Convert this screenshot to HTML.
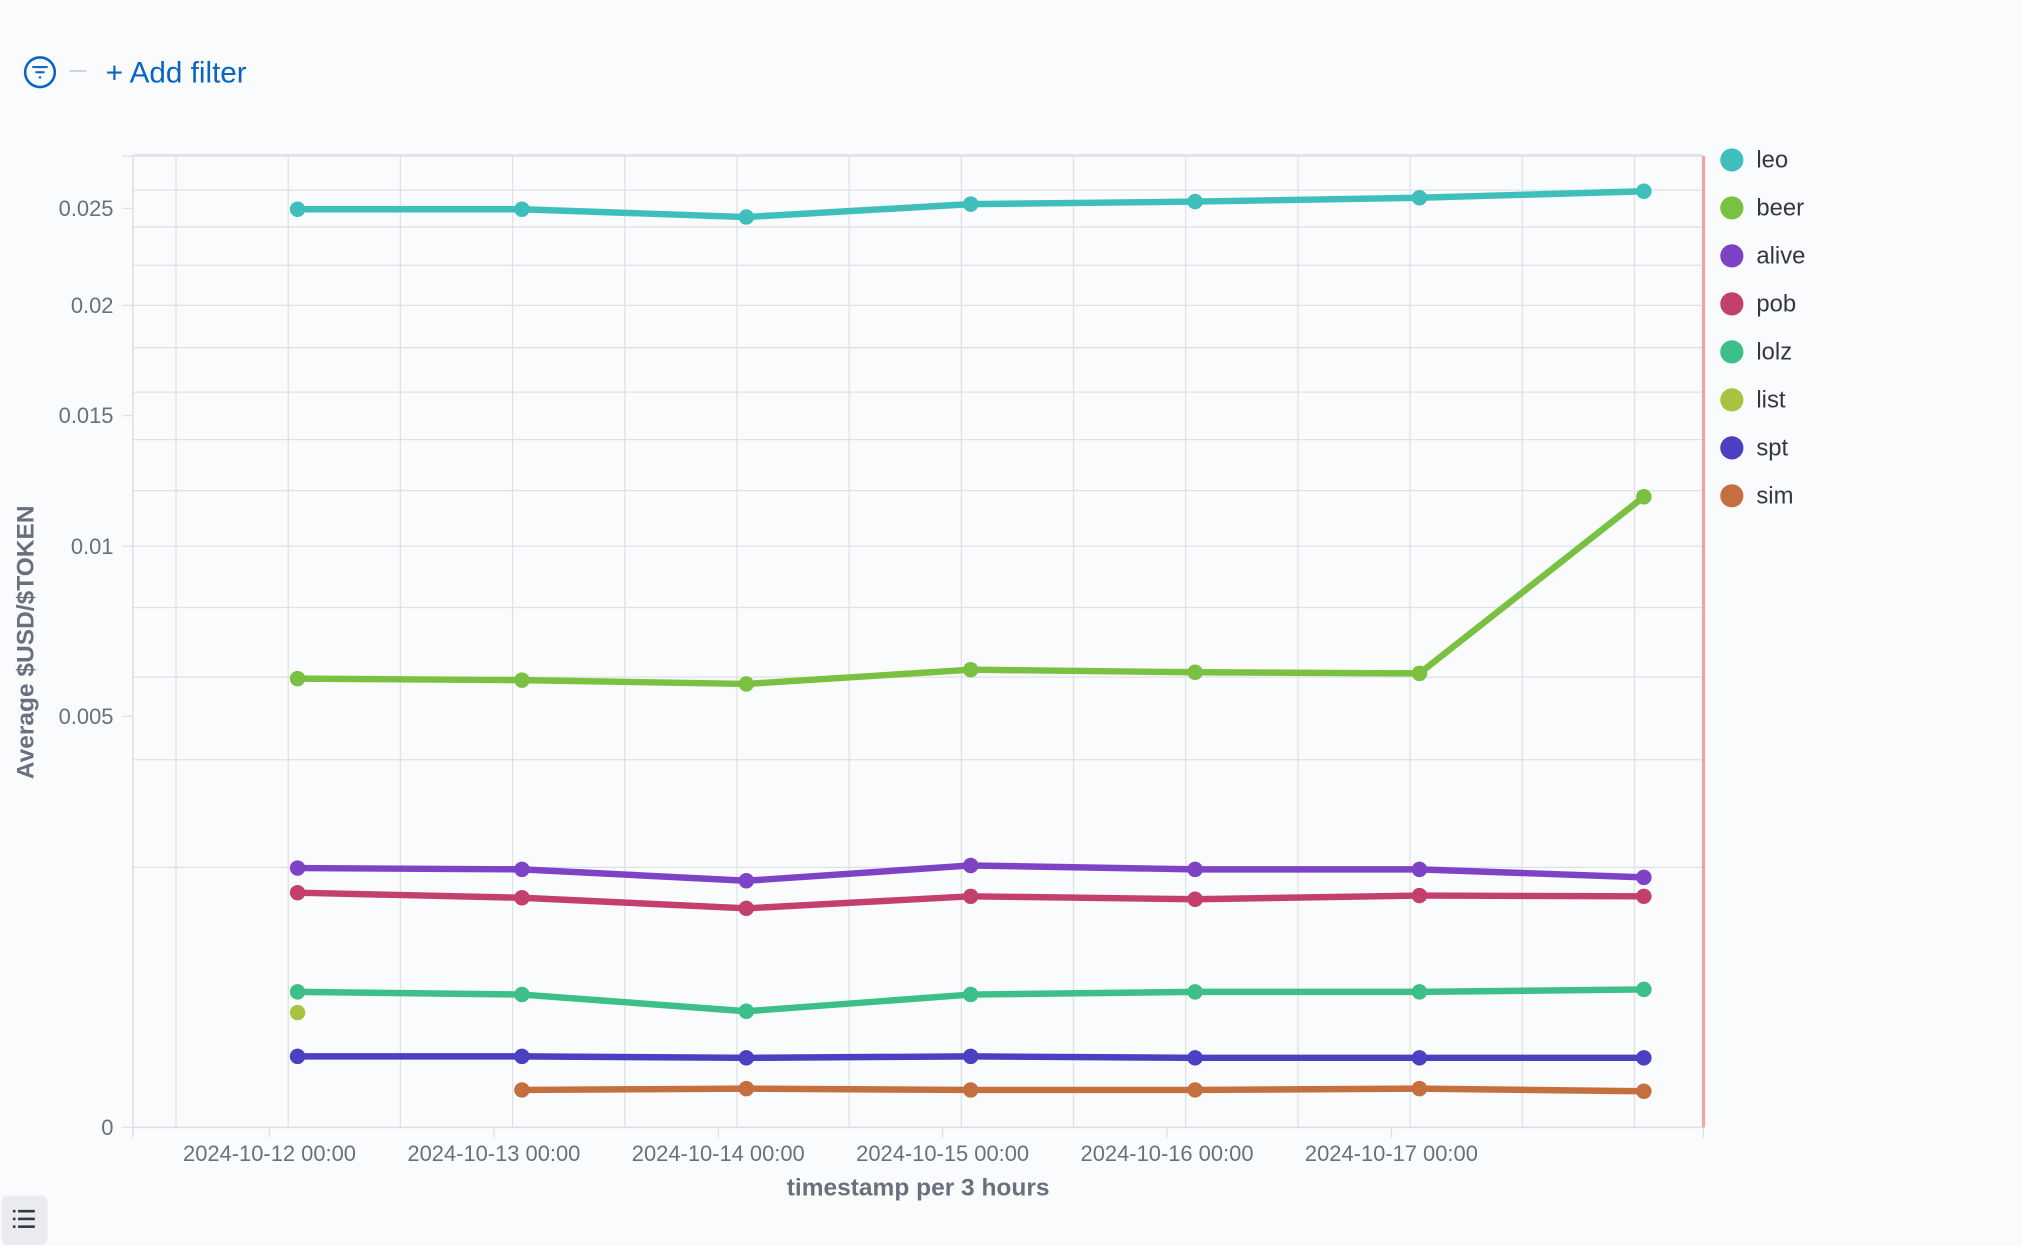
<!DOCTYPE html>
<html><head><meta charset="utf-8"><style>
html,body{margin:0;padding:0;background:#fafbfd;}
svg{display:block;font-family:"Liberation Sans",sans-serif;}
</style></head><body>
<svg id="chart" width="2022" height="1246" viewBox="0 0 1568 966" preserveAspectRatio="none" xmlns="http://www.w3.org/2000/svg">
<rect x="0" y="0" width="1568" height="966" fill="#fafbfd"/>
<g>
 <g>
  <circle cx="31" cy="56" r="11.5" fill="none" stroke="#0b64c4" stroke-width="2"/>
  <line x1="25" y1="52" x2="37" y2="52" stroke="#0b64c4" stroke-width="1.6"/>
  <line x1="27.5" y1="56" x2="34.5" y2="56" stroke="#0b64c4" stroke-width="1.6"/>
  <line x1="30" y1="60" x2="32" y2="60" stroke="#0b64c4" stroke-width="1.6"/>
 </g>
 <line x1="54" y1="55" x2="67" y2="55" stroke="#cdd3dd" stroke-width="1.5"/>
 <text x="82" y="64" font-size="23" fill="#0b64c4">+ Add filter</text>
</g>
<g id="grid"></g>
<g id="axes"></g>
<g id="series"></g>
<g id="legend"></g>
<text transform="translate(26,498) rotate(-90)" text-anchor="middle" font-size="19" font-weight="bold" fill="#69707d">Average $USD/$TOKEN</text>
<text x="712" y="927" text-anchor="middle" font-size="19" font-weight="bold" fill="#69707d">timestamp per 3 hours</text>
<g>
 <rect x="1" y="927" width="36" height="38" rx="5" fill="#e9ebef"/>
 <g fill="#343741"><rect x="10" y="938" width="2" height="2"/><rect x="14" y="938" width="13" height="2"/><rect x="10" y="944" width="2" height="2"/><rect x="14" y="944" width="13" height="2"/><rect x="10" y="950" width="2" height="2"/><rect x="14" y="950" width="13" height="2"/></g>
</g>
</svg>
<script>
const categories = ["2024-10-12 03:00","2024-10-13 03:00","2024-10-14 03:00","2024-10-15 03:00","2024-10-16 03:00","2024-10-17 03:00","2024-10-18 03:00"];
const categoryHours = [3,27,51,75,99,123,147];
const seriesNames = ["leo","beer","alive","pob","lolz","list","spt","sim"];
const seriesColors = ["#3fbfbc","#7ac142","#7e43c4","#c4406c","#3dbf8a","#a8c242","#4b3fc2","#c4703e"];
const leo = [0.02495,0.02495,0.02453,0.02523,0.02537,0.02558,0.02594];
const beer = [0.00596,0.00592,0.00582,0.0062,0.00613,0.0061,0.01177];
const alive = [0.00199,0.00197,0.0018,0.00203,0.00197,0.00197,0.00185];
const pob = [0.00163,0.00156,0.00142,0.00158,0.00154,0.00159,0.00158];
const lolz = [0.000543,0.000522,0.000399,0.000522,0.000543,0.000543,0.000563];
const list = [0.00039,null,null,null,null,null,null];
const spt = [0.000149,0.000149,0.000143,0.000149,0.000143,0.000143,0.000143];
const sim = [null,0.0000414,0.0000443,0.0000414,0.0000414,0.0000443,0.0000386];
const yTickValues = [0,0.005,0.01,0.015,0.02,0.025];
const yTickLabels = ["0","0.005","0.01","0.015","0.02","0.025"];
const yGridValues = [0.002,0.004,0.006,0.008,0.01,0.012,0.014,0.016,0.018,0.02,0.022,0.024,0.026,0.028];
const xTickLabels = ["2024-10-12 00:00","2024-10-13 00:00","2024-10-14 00:00","2024-10-15 00:00","2024-10-16 00:00","2024-10-17 00:00"];
const xTickHours = [0,24,48,72,96,120];
const xGridHours = [-10,2,14,26,38,50,62,74,86,98,110,122,134,146];

const allSeries = [leo,beer,alive,pob,lolz,list,spt,sim];
const NS = "http://www.w3.org/2000/svg";
const L = 103, R = 1321, T = 121, B = 874;
function xScale(h){ return 209 + h * 7.25; }
function yScale(v){ return B - Math.sqrt(v) * 4506; }
function mk(tag, attrs, parent){ const e = document.createElementNS(NS, tag); for (const k in attrs) e.setAttribute(k, attrs[k]); parent.appendChild(e); return e; }

const grid = document.getElementById("grid");
const axes = document.getElementById("axes");
const series = document.getElementById("series");
const legend = document.getElementById("legend");

yGridValues.forEach(v => {
  const y = yScale(v);
  const l = mk("line", {x1:L, x2:R, y1:y, y2:y, stroke:"#dfe1e5", "stroke-width":1}, grid);
  
  
});
mk("line", {x1:95, x2:R, y1:T, y2:T, stroke:"#dfe1e5", "stroke-width":1}, grid);
xGridHours.forEach(h => {
  const x = xScale(h);
  const l = mk("line", {x1:x, x2:x, y1:T, y2:B, stroke:"#dfe1e5", "stroke-width":1}, grid);
  
  
});
mk("line", {x1:L, x2:L, y1:T, y2:882, stroke:"#dfe1e5", "stroke-width":1.2}, axes);
mk("line", {x1:L, x2:R, y1:B, y2:B, stroke:"#dfe1e5", "stroke-width":1.2}, axes);
mk("line", {x1:R, x2:R, y1:T, y2:882, stroke:"#dfe1e5", "stroke-width":1}, axes);
const endLine = mk("line", {x1:1321, x2:1321, y1:T, y2:B, stroke:"#f0a4a4", "stroke-width":2.5}, axes);



yTickValues.forEach((v, i) => {
  const y = yScale(v);
  mk("line", {x1:95, x2:L, y1:y, y2:y, stroke:"#dfe1e5", "stroke-width":1}, axes);
  const t = mk("text", {x:88, y:y+6, "text-anchor":"end", "font-size":17, fill:"#69707d"}, axes);
  t.textContent = yTickLabels[i];
  
  
});
xTickHours.forEach((h, i) => {
  const x = xScale(h);
  mk("line", {x1:x, x2:x, y1:B, y2:882, stroke:"#dfe1e5", "stroke-width":1}, axes);
  const t = mk("text", {x:x, y:900, "text-anchor":"middle", "font-size":17, fill:"#69707d"}, axes);
  t.textContent = xTickLabels[i];
  
  
});

allSeries.forEach((vals, si) => {
  const g = mk("g", {}, series);
  
  
  const pts = [];
  vals.forEach((v, i) => { if (v !== null) pts.push([xScale(categoryHours[i]), yScale(v)]); });
  if (pts.length > 1) {
    const p = mk("polyline", {points: pts.map(p => p.join(",")).join(" "), fill:"none", stroke:seriesColors[si], "stroke-width":5, "stroke-linejoin":"round"}, g);
    
    
  }
  pts.forEach(p => {
    const c = mk("circle", {cx:p[0], cy:p[1], r:6, fill:seriesColors[si]}, g);
    
    
  });
});

seriesNames.forEach((n, i) => {
  const g = mk("g", {}, legend);
  
  
  const y = 124 + i * 37.2;
  mk("circle", {cx:1343, cy:y, r:9, fill:seriesColors[i]}, g);
  const t = mk("text", {x:1362, y:y+6, "font-size":18.5, fill:"#343741"}, g);
  t.textContent = n;
});
</script>
</body></html>
